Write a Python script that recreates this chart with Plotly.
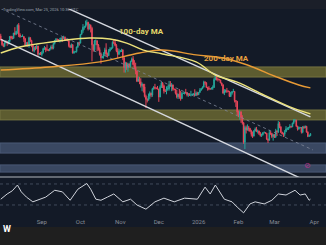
import pandas as pd
import plotly.graph_objects as go

W, H = 326, 245

# ---- daily candles (thousand USD) ----
open_first = 117.8
close = [115.8,
    113.3,112.5,114.2,115.0,114.1,115.0,117.5,116.7,116.5,119.3,118.7,120.2,123.3,118.3,117.4,117.5,117.5,116.3,112.9,114.3,112.5,116.9,115.4,113.5,110.1,111.8,111.3,112.6,108.4,108.8,108.2,
    109.2,111.2,111.7,110.7,110.7,110.2,111.2,112.1,111.5,113.9,115.5,116.1,115.9,115.3,115.4,116.8,116.5,117.1,115.7,115.7,115.3,112.7,112.0,113.3,109.0,109.6,109.7,112.1,114.4,114.1,
    118.6,120.6,122.3,122.4,123.5,124.8,121.4,123.3,121.7,113.2,110.6,115.3,115.3,113.1,110.8,108.2,106.5,107.2,108.6,110.6,108.5,107.6,110.1,111.0,111.6,114.5,114.1,112.9,110.1,108.3,109.6,
    110.1,110.6,106.5,101.5,103.9,101.3,103.4,102.3,104.7,106.0,103.0,101.6,99.7,94.4,95.5,94.2,92.2,92.9,91.5,86.6,85.1,84.6,86.8,88.3,87.3,90.5,91.3,90.9,90.8,90.4,
    86.3,91.3,93.5,92.1,89.4,89.3,90.4,90.6,92.7,92.0,92.5,90.3,90.3,88.2,86.4,87.8,86.2,85.5,88.1,88.3,88.6,88.5,87.4,87.6,87.2,87.3,87.8,87.8,87.1,88.4,87.5,
    88.7,89.9,90.6,91.4,93.9,93.7,91.3,91.0,90.5,90.4,90.8,91.2,95.3,97.0,95.6,95.5,95.1,93.6,92.6,88.3,89.4,89.5,89.3,89.2,86.6,88.3,89.1,89.2,84.5,84.1,78.6,
    77.0,78.6,75.6,73.0,63.0,70.6,69.3,70.5,70.1,68.8,67.0,66.2,68.8,69.8,68.6,68.8,67.5,66.4,66.9,67.9,68.0,67.6,64.6,64.0,67.9,67.5,65.9,66.9,
    65.7,68.8,68.3,72.6,70.9,68.1,67.3,67.1,68.4,69.9,70.2,70.5,71.2,70.9,72.8,74.1,74.3,71.2,69.9,70.5,70.6,68.1,70.9,70.5,71.2,68.2,66.0,66.4,67.4]
high = [118.9,
    116.1,114.0,114.8,115.7,115.1,115.7,117.7,117.9,117.7,119.3,122.3,120.3,123.7,124.4,119.2,117.9,118.6,117.6,116.8,114.6,114.8,117.4,117.0,115.8,113.6,112.4,112.6,113.4,112.7,108.9,109.5,
    109.9,111.7,112.6,111.8,113.4,110.9,111.5,112.9,113.2,114.3,115.5,116.7,116.4,116.1,116.8,117.0,117.3,117.9,117.5,116.3,115.9,115.4,113.3,113.9,113.4,110.2,110.0,112.3,114.5,114.8,
    118.7,121.0,123.9,122.9,125.7,126.2,125.1,124.1,123.7,122.5,113.4,115.7,116.0,115.4,113.6,111.9,109.3,107.5,109.4,111.7,114.0,109.2,111.0,112.0,111.9,115.0,116.1,116.0,113.6,111.5,111.2,
    110.6,111.2,110.8,107.2,104.5,104.1,104.0,103.5,105.0,106.7,107.4,105.3,104.0,99.9,96.8,96.6,96.0,93.8,92.9,93.1,87.5,85.6,88.1,89.2,88.6,91.0,91.9,93.1,91.2,92.0,
    90.4,92.3,94.1,94.0,92.7,90.3,91.8,92.2,94.6,94.5,93.5,92.8,90.6,90.5,90.0,88.0,90.4,89.5,89.0,88.6,89.0,90.5,88.9,87.9,88.3,89.5,88.0,88.2,90.3,89.2,89.0,
    88.9,90.9,90.8,91.8,94.7,94.5,93.8,91.5,91.9,90.8,91.3,92.3,96.1,97.9,97.1,95.9,95.6,95.2,93.6,92.8,90.4,90.2,91.0,89.7,89.3,88.9,89.4,90.5,89.3,84.7,84.2,
    79.3,79.3,79.0,76.9,73.3,71.5,71.6,72.2,71.4,70.4,69.4,68.5,69.3,70.6,70.9,69.4,69.0,68.3,67.4,68.2,68.6,68.2,67.8,64.9,69.3,68.7,67.9,67.3,
    67.1,69.9,69.2,73.9,73.5,71.3,68.4,67.9,69.3,71.3,70.6,70.9,72.3,71.4,73.1,74.9,75.0,74.6,71.5,71.1,70.9,70.8,71.3,71.5,71.6,71.4,68.6,66.9,67.7]
low = [115.5,
    112.7,112.0,112.0,114.0,112.7,113.4,114.3,115.9,116.0,116.5,118.1,118.2,118.9,117.2,116.8,117.2,117.3,114.7,112.7,112.4,112.4,111.7,114.7,112.0,109.7,109.3,110.4,110.9,107.5,107.9,108.1,
    107.3,108.7,110.6,109.4,110.0,110.0,110.0,110.7,110.8,110.9,113.4,114.8,115.4,114.8,114.4,114.8,114.8,116.2,115.4,115.5,115.2,111.9,111.5,111.6,108.7,108.6,109.3,109.2,111.6,112.7,
    113.9,118.4,119.4,121.0,122.1,123.1,120.6,121.1,119.6,104.7,109.7,109.7,113.0,109.9,110.2,107.6,103.5,106.3,106.1,107.4,107.5,106.7,107.5,109.7,110.6,111.3,113.8,112.4,109.4,106.3,108.0,
    109.4,109.5,105.3,98.9,98.9,100.3,99.3,101.4,101.5,104.3,102.5,100.8,98.0,94.0,94.4,92.9,91.2,89.3,88.6,86.1,80.6,83.5,84.6,85.3,86.2,86.4,90.1,90.2,90.3,90.3,
    83.8,86.2,91.0,90.9,88.1,88.9,87.7,89.6,89.6,91.6,89.3,89.5,89.8,87.6,85.6,85.3,85.4,84.4,85.2,87.9,87.6,88.0,86.6,86.4,86.9,86.6,87.2,87.4,86.8,86.8,87.1,
    87.3,88.4,89.5,90.3,91.2,92.6,90.9,89.6,89.8,90.1,90.2,90.0,91.0,94.9,94.8,94.3,94.9,93.4,91.9,88.0,87.3,88.6,88.4,88.9,86.3,86.3,87.5,88.8,83.5,81.2,77.0,
    75.9,74.6,73.0,72.1,62.2,59.5,67.5,69.0,68.6,68.2,65.9,65.2,65.9,68.6,68.2,67.5,66.7,65.9,65.7,66.4,67.6,67.2,64.2,62.6,63.9,66.8,65.1,63.8,
    65.2,65.2,66.2,67.8,70.2,67.7,67.0,65.7,65.9,68.2,69.2,69.3,70.1,70.5,70.8,72.3,73.5,70.9,69.0,69.4,70.1,67.5,67.6,69.9,70.2,68.0,65.6,65.8,66.1]
dates = pd.date_range("2025-07-31", periods=len(close), freq="D")
open_ = [open_first] + close[:-1]

# ---- moving averages ----
ma100_dates = ["2025-07-31","2025-08-15","2025-09-02","2025-09-19","2025-10-08","2025-10-24","2025-11-06",
               "2025-11-19","2025-12-04","2025-12-30","2026-01-14","2026-01-31","2026-02-21","2026-03-13","2026-03-29"]
ma100_vals = [109.0,112.1,114.1,115.6,116.7,116.2,114.1,110.5,108.5,104.4,97.6,94.0,87.3,81.2,77.6]
ma200_dates = ["2025-07-31","2025-09-07","2025-10-16","2025-11-16","2025-12-04","2025-12-30","2026-01-20",
               "2026-02-08","2026-03-03","2026-03-20","2026-03-29"]
ma200_vals = [100.2,101.8,104.4,109.0,110.5,108.0,106.4,102.8,96.6,92.5,91.0]

# ---- trend lines (start/end) ----
upper_dates = ["2025-08-20", "2026-03-29"]; upper_vals = [141.5, 76.1]
mid_dates = ["2025-07-31", "2026-03-31"];   mid_vals = [131.9, 59.0]
lower_dates = ["2025-07-31", "2026-03-31"]; lower_vals = [116.05, 41.5]

# ---- horizontal zones ----
olive_zones = [(96.6, 101.8), (74.5, 79.6)]
blue_zones = [(57.4, 62.6), (47.6, 51.3)]

# ---- RSI ----
rsi_dates = ["2025-07-31","2025-08-05","2025-08-09","2025-08-13","2025-08-16","2025-08-20","2025-08-25","2025-08-30",
             "2025-09-04","2025-09-11","2025-09-17","2025-09-23","2025-09-29","2025-10-06","2025-10-09","2025-10-13",
             "2025-10-17","2025-10-22","2025-10-27","2025-11-03","2025-11-09","2025-11-14","2025-11-21","2025-11-28",
             "2025-12-05","2025-12-13","2025-12-21","2025-12-31","2026-01-06","2026-01-10","2026-01-14","2026-01-21",
             "2026-01-27","2026-01-31","2026-02-05","2026-02-10","2026-02-14","2026-02-21","2026-02-27","2026-03-04",
             "2026-03-10","2026-03-17","2026-03-21","2026-03-25","2026-03-28","2026-03-29"]
rsi_vals = [41,51,57,68,55,45,36,41,45,58,55,39,60,71,60,41,39,45,51,36,41,30,22,36,43,36,43,41,64,51,68,41,
            36,26,15,32,36,32,39,51,49,58,49,51,39,41]

month_ticks = ["2025-08-01","2025-09-01","2025-10-01","2025-11-01","2025-12-01","2026-01-01","2026-02-01","2026-03-01","2026-04-01"]
month_labels = ["Aug","Sep","Oct","Nov","Dec","2026","Feb","Mar","Apr"]

BG = "#131a27"
def py(px):  # pixel row -> paper y
    return 1 - px / H

fig = go.Figure()
fig.add_trace(go.Scatter(x=upper_dates, y=upper_vals, mode="lines",
                         line=dict(color="#d6d9e0", width=1.4), hoverinfo="skip"))
fig.add_trace(go.Scatter(x=lower_dates, y=lower_vals, mode="lines",
                         line=dict(color="#d6d9e0", width=1.4), hoverinfo="skip"))
fig.add_trace(go.Scatter(x=mid_dates, y=mid_vals, mode="lines",
                         line=dict(color="#7f8799", width=0.8, dash="dot"), hoverinfo="skip"))
fig.add_trace(go.Scatter(x=ma200_dates, y=ma200_vals, mode="lines", line_shape="spline",
                         line=dict(color="#e89a35", width=1.4), hoverinfo="skip"))
fig.add_trace(go.Scatter(x=ma100_dates, y=ma100_vals, mode="lines", line_shape="spline",
                         line=dict(color="#ece27a", width=1.4), hoverinfo="skip"))
fig.add_trace(go.Candlestick(x=dates, open=open_, high=high, low=low, close=close,
                             increasing=dict(line=dict(color="#26a69a", width=1), fillcolor="#26a69a"),
                             decreasing=dict(line=dict(color="#e8475a", width=1), fillcolor="#e8475a"),
                             whiskerwidth=0, hoverinfo="skip"))
fig.add_trace(go.Scatter(x=rsi_dates, y=rsi_vals, mode="lines", xaxis="x2", yaxis="y2",
                         line=dict(color="#cfd3db", width=1), hoverinfo="skip"))

shapes = []
for lo, hi in olive_zones:
    shapes.append(dict(type="rect", xref="paper", yref="y", x0=0, x1=1, y0=lo, y1=hi,
                       fillcolor="#5d5c30", line=dict(color="#747340", width=1), layer="below"))
for lo, hi in blue_zones:
    shapes.append(dict(type="rect", xref="paper", yref="y", x0=0, x1=1, y0=lo, y1=hi,
                       fillcolor="#3a4862", line=dict(color="#4b5a76", width=1), layer="below"))
for lvl in (70, 30):
    shapes.append(dict(type="line", xref="paper", yref="y2", x0=0, x1=1, y0=lvl, y1=lvl,
                       line=dict(color="#4d5568", width=0.8, dash="dot"), layer="below"))
shapes.append(dict(type="line", xref="paper", yref="paper", x0=0, x1=1, y0=py(177), y1=py(177),
                   line=dict(color="#b4b8c0", width=1)))
shapes.append(dict(type="rect", xref="paper", yref="paper", x0=0, x1=1, y0=py(9), y1=1,
                   fillcolor="#1b1f29", line=dict(width=0), layer="above"))
shapes.append(dict(type="rect", xref="paper", yref="paper", x0=0, x1=1, y0=0, y1=py(227),
                   fillcolor="#1f1f1f", line=dict(width=0), layer="above"))

annotations = [
    dict(text="<b>100-day MA</b>", x=141 / W, y=py(25), xref="paper", yref="paper", showarrow=False,
         font=dict(family="Roboto", size=8, color="#e6d86a")),
    dict(text="<b>200-day MA</b>", x=251 / W, y=py(52), xref="paper", yref="paper", showarrow=False,
         font=dict(family="Roboto", size=8, color="#e8a13f")),
    dict(text="TradingView.com, Mar 25, 2026 10:30 UTC", x=1 / W, y=py(4.5), xref="paper",
         yref="paper", xanchor="left", showarrow=False, font=dict(family="Roboto", size=4, color="#9ca2ad")),
    dict(text="<b>W</b>", x=1 / W, y=py(236), xref="paper", yref="paper", xanchor="left", showarrow=False,
         font=dict(family="Roboto", size=9, color="#ffffff")),
    dict(text="⊘", x=313 / W, y=py(172), xref="paper", yref="paper", showarrow=False,
         font=dict(family="DejaVu Sans", size=8, color="#b0358a")),
]

xr = ["2025-07-30 10:00", "2026-04-10 03:00"]
fig.update_layout(
    width=W, height=H, margin=dict(l=0, r=0, t=0, b=0),
    paper_bgcolor=BG, plot_bgcolor=BG, showlegend=False,
    shapes=shapes, annotations=annotations,
    xaxis=dict(range=xr, domain=[0, 1], anchor="y", showgrid=False, zeroline=False,
               showticklabels=False, rangeslider=dict(visible=False), type="date"),
    yaxis=dict(range=[45.07, 131.67], domain=[py(177), py(9)], showgrid=False, zeroline=False,
               showticklabels=False),
    xaxis2=dict(range=xr, domain=[0, 1], anchor="y2", matches="x", showgrid=False, zeroline=False,
                tickmode="array", tickvals=month_ticks, ticktext=month_labels, ticks="",
                tickfont=dict(family="Roboto", size=6, color="#868b96"), type="date"),
    yaxis2=dict(range=[7.1, 83.3], domain=[py(217), py(177)], showgrid=False, zeroline=False,
                showticklabels=False),
)
fig.write_html("out.html")
